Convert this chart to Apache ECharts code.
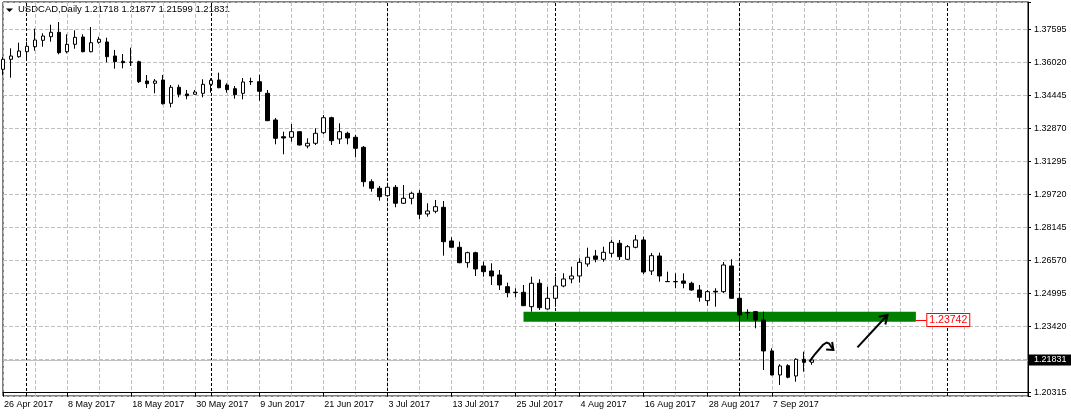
<!DOCTYPE html>
<html>
<head>
<meta charset="utf-8">
<script src="https://cdn.jsdelivr.net/npm/echarts@6/dist/echarts.min.js"></script>
<style>
html,body{margin:0;padding:0;background:#fff;}
#chart{width:1071px;height:416px;}
</style>
</head>
<body>
<div id="chart"></div>
<script>
// ---- data ----
const symbolName = 'USDCAD';
const timeframe = 'Daily';
const firstDate = [2017, 3, 26];      // 26 Apr 2017
const totalSlots = 129;               // bars + empty future space
const opens = [1.35688,1.36165,1.36289,1.36527,1.36766,1.37071,1.37242,1.37452,1.36527,1.36880,
1.37228,1.36527,1.36975,1.36990,1.36322,1.36070,1.36036,1.36051,1.35131,1.35021,
1.35178,1.34068,1.34830,1.34511,1.34497,1.34544,1.34973,1.35178,1.34940,1.34764,
1.34544,1.35107,1.35097,1.34544,1.33271,1.32475,1.32447,1.32714,1.32032,1.32161,
1.32666,1.33381,1.32366,1.32637,1.32447,1.31970,1.30330,1.30016,1.29663,1.30063,
1.29301,1.29539,1.29777,1.28791,1.28919,1.29110,1.27504,1.27203,1.26469,1.26946,
1.26312,1.26073,1.25883,1.25325,1.25058,1.25058,1.24372,1.25487,1.24262,1.24772,
1.25358,1.25692,1.25835,1.26407,1.26788,1.26631,1.26917,1.27394,1.26631,1.27203,
1.27551,1.26073,1.26788,1.25573,1.25573,1.25597,1.25487,1.25168,1.24658,1.25106,
1.25087,1.26312,1.24772,1.24095,1.24133,1.23738,1.22260,1.21116,1.21559,1.21068,
1.21864,1.21718];
const highs = [1.36275,1.36689,1.36956,1.37004,1.37624,1.37404,1.37814,1.37943,1.37357,1.37547,
1.37357,1.37705,1.37242,1.37195,1.36608,1.36418,1.36718,1.36098,1.35417,1.35226,
1.35417,1.34940,1.34954,1.34702,1.34702,1.35212,1.35259,1.35526,1.35021,1.34892,
1.35274,1.35288,1.35431,1.34702,1.33367,1.32714,1.33081,1.32733,1.32399,1.32876,
1.33510,1.33429,1.33114,1.32714,1.32556,1.32032,1.30445,1.30125,1.30140,1.30173,
1.30173,1.29854,1.29935,1.29301,1.29458,1.29410,1.27680,1.27470,1.26993,1.26993,
1.26517,1.26441,1.26121,1.25516,1.25249,1.25406,1.25802,1.25678,1.25325,1.25802,
1.25964,1.26278,1.26679,1.27184,1.27074,1.27232,1.27551,1.27551,1.27313,1.27790,
1.27708,1.26931,1.26946,1.26040,1.25964,1.25964,1.25563,1.25406,1.25168,1.25249,
1.26502,1.26631,1.25010,1.24248,1.24150,1.24133,1.22389,1.21626,1.21626,1.21912,
1.22227,1.21877];
const lows = [1.35417,1.35288,1.36241,1.36165,1.36575,1.36766,1.37004,1.36403,1.36451,1.36670,
1.36499,1.36499,1.36909,1.36022,1.35717,1.35736,1.35846,1.35035,1.34797,1.34544,
1.34010,1.33877,1.34354,1.34258,1.34487,1.34354,1.34573,1.34783,1.34573,1.34287,
1.34258,1.34940,1.34191,1.33224,1.32113,1.31636,1.32237,1.32056,1.31922,1.32080,
1.32604,1.32080,1.32127,1.32113,1.31493,1.30092,1.29854,1.29425,1.29615,1.29110,
1.29267,1.29253,1.28552,1.28662,1.28824,1.26803,1.27193,1.26441,1.26231,1.25835,
1.25802,1.25406,1.25168,1.24820,1.24820,1.24400,1.24133,1.24214,1.24238,1.24372,
1.25296,1.25487,1.25516,1.26278,1.26488,1.26517,1.26727,1.26598,1.26598,1.27156,
1.25930,1.25883,1.25563,1.25549,1.25249,1.25249,1.25134,1.24610,1.24419,1.24372,
1.25025,1.24739,1.23342,1.23771,1.23342,1.21354,1.21092,1.20639,1.20959,1.20796,
1.21273,1.21599];
const closes = [1.36165,1.36322,1.36561,1.36785,1.37085,1.37276,1.37452,1.36480,1.36880,1.37214,
1.36527,1.36956,1.37118,1.36289,1.36051,1.36003,1.36027,1.35097,1.35002,1.35131,
1.34048,1.34830,1.34497,1.34430,1.34606,1.34973,1.35164,1.34811,1.34716,1.34477,
1.35083,1.35092,1.34640,1.33238,1.32399,1.32413,1.32714,1.32080,1.32161,1.32637,
1.33381,1.32285,1.32714,1.32413,1.31922,1.30330,1.30016,1.29615,1.30063,1.29301,
1.29539,1.29777,1.28776,1.28934,1.29139,1.27470,1.27203,1.26469,1.26946,1.26169,
1.26040,1.25835,1.25406,1.25039,1.25049,1.24419,1.25487,1.24324,1.24772,1.25358,
1.25692,1.25835,1.26488,1.26727,1.26631,1.26965,1.27441,1.26755,1.27232,1.27551,
1.26026,1.26803,1.25835,1.25563,1.25559,1.25487,1.25168,1.24820,1.25087,1.25072,
1.26359,1.24772,1.23976,1.24081,1.23738,1.22260,1.21116,1.21545,1.21006,1.21864,
1.21718,1.21831];

// price grid (tick labels as shown on the price scale)
const gridBase = 1.20270;
const gridStep = 0.01575;
const yTickLabels = ['1.20315','','1.23420','1.24995','1.26570','1.28145','1.29720','1.31295','1.32870','1.34445','1.36020','1.37595'];
const priceMin = 1.20113, priceMax = 1.38897;

// month separators (bar slot index)
const monthSeparators = [3, 26, 48, 69, 92, 118];

// support zone
const zoneStart = 65, zoneEnd = 114;
const zoneTop = 1.24133, zoneBottom = 1.23656;
const zoneLabel = 1.23742;

// hand-drawn arrows: [slot, price]
const arrowSmall = [[100.7,1.21748],[101.41,1.22115],[102.38,1.22544],[102.85,1.22663],[103.16,1.22615],[103.70,1.22305]];
const arrowSmallHead = [[102.79,1.22329],[103.70,1.22305],[103.54,1.22687]];
const arrowBig = [[106.70,1.22434],[110.45,1.23974]];
const arrowBigHead = [[109.35,1.23888],[110.45,1.23974],[110.19,1.23521]];

// ---- build ----
const monthNames = ['Jan','Feb','Mar','Apr','May','Jun','Jul','Aug','Sep','Oct','Nov','Dec'];
const dates = [];
{
  let t = Date.UTC(firstDate[0], firstDate[1], firstDate[2]);
  while (dates.length < totalSlots) {
    const d = new Date(t);
    const wd = d.getUTCDay();
    if (wd !== 0 && wd !== 6) dates.push(d.getUTCDate() + ' ' + monthNames[d.getUTCMonth()] + ' ' + d.getUTCFullYear());
    t += 86400000;
  }
}
const nBars = closes.length;
const candleData = closes.map((c, i) => [opens[i], c, lows[i], highs[i]]);
const lastO = opens[nBars-1], lastH = highs[nBars-1], lastL = lows[nBars-1], lastC = closes[nBars-1];

const uMin = (priceMin - gridBase) / gridStep;
const uMax = (priceMax - gridBase) / gridStep;

const FONT = '"Liberation Sans", Arial, sans-serif';
const labelEvery = (i) => i % 8 === 0 && i < nBars;

const chart = echarts.init(document.getElementById('chart'), null, {renderer: 'canvas'});
chart.setOption({
  animation: false,
  backgroundColor: '#fff',
  grid: {left: 3, right: 43, top: 2, bottom: 20, show: true, borderColor: '#000', borderWidth: 1, backgroundColor: '#fff'},
  graphic: [
    {type: 'polygon', shape: {points: [[6,8.5],[13,8.5],[9.5,12]]}, style: {fill: '#000'}, silent: true},
    {type: 'text', left: 18, top: 4, silent: true,
     style: {text: symbolName + ',' + timeframe + ' ' + [lastO,lastH,lastL,lastC].map(v=>v.toFixed(5)).join(' '),
             font: '9.5px ' + FONT, fill: '#000'}}
  ],
  xAxis: [
    {type: 'category', data: dates, boundaryGap: false,
     axisLine: {show: true, lineStyle: {color: '#000', width: 1}},
     axisTick: {show: true, interval: labelEvery, length: 4, lineStyle: {color: '#000'}},
     axisLabel: {show: true, interval: labelEvery, align: 'left', margin: 4, color: '#000', fontSize: 9, fontFamily: FONT, padding: [0,0,0,1]},
     splitLine: {show: true, interval: (i) => i % 4 === 0, lineStyle: {color: '#c0c0c0', type: [4, 2], width: 1}}},
    {type: 'value', min: 0, max: totalSlots - 1, show: false}
  ],
  yAxis: [
    {type: 'value', min: priceMin, max: priceMax, show: false, scale: true, splitLine: {show: false}},
    {type: 'value', position: 'right', min: uMin, max: uMax, minInterval: 1, maxInterval: 1, splitNumber: 12,
     axisLine: {show: true, lineStyle: {color: '#000'}},
     axisTick: {show: true, length: 3, lineStyle: {color: '#000'}},
     axisLabel: {margin: 6, color: '#000', fontSize: 9, fontFamily: FONT, showMinLabel: true, showMaxLabel: true,
       formatter: (v) => { const r = Math.round(v); return Math.abs(v - r) < 1e-6 && yTickLabels[r] !== undefined ? yTickLabels[r] : ''; }},
     splitLine: {show: true, lineStyle: {color: '#c0c0c0', type: [4, 2], width: 1}}}
  ],
  series: [
    { // month separators
      type: 'line', xAxisIndex: 1, yAxisIndex: 0, data: [[0, priceMin]], symbol: 'none', lineStyle: {opacity: 0}, silent: true, z: 1,
      markLine: {silent: true, symbol: 'none', z: 1, precision: 6, animation: false, label: {show: false},
        lineStyle: {color: '#000', type: [3, 2], width: 1},
        data: monthSeparators.map(s => ({xAxis: s - 0.05}))}
    },
    { // support zone
      type: 'line', xAxisIndex: 1, yAxisIndex: 0, data: [[zoneStart, zoneTop]], symbol: 'none', lineStyle: {opacity: 0}, silent: true, z: 2,
      markArea: {silent: true, z: 2, itemStyle: {color: '#008000', opacity: 1},
        data: [[{coord: [zoneStart, zoneTop]}, {coord: [zoneEnd, zoneBottom]}]]},
      markLine: {silent: true, symbol: 'none', z: 2, precision: 6, animation: false,
        lineStyle: {color: '#ff0000', type: 'solid', width: 1},
        label: {show: true, position: 'end', distance: 1, formatter: zoneLabel.toFixed(5), color: '#ff0000',
                fontSize: 10.5, fontFamily: FONT, backgroundColor: '#fff', borderColor: '#ff0000', borderWidth: 1,
                padding: [1, 2, 0, 2], align: 'left', verticalAlign: 'middle'},
        data: [[{coord: [zoneEnd, zoneLabel]}, {coord: [zoneEnd + 1.3, zoneLabel]}]]}
    },
    { // current price line
      type: 'line', xAxisIndex: 1, yAxisIndex: 0, data: [[0, lastC]], symbol: 'none', lineStyle: {opacity: 0}, silent: true, z: 2,
      markLine: {silent: true, symbol: 'none', z: 2.5, precision: 6, animation: false,
        lineStyle: {color: '#c0c0c0', type: 'solid', width: 1},
        label: {show: true, position: 'end', distance: 1, formatter: lastC.toFixed(5), color: '#fff', fontSize: 9, fontFamily: FONT,
                backgroundColor: '#000', padding: [1, 5, 0, 5], lineHeight: 10, align: 'left', verticalAlign: 'middle'},
        data: [{yAxis: lastC}]}
    },
    {
      type: 'candlestick', xAxisIndex: 0, yAxisIndex: 0, data: candleData, barWidth: 4, z: 3, silent: true,
      itemStyle: {color: '#fff', color0: '#000', borderColor: '#000', borderColor0: '#000', borderColorDoji: '#000', borderWidth: 1}
    },
    {
      type: 'lines', coordinateSystem: 'cartesian2d', xAxisIndex: 1, yAxisIndex: 0, polyline: true, z: 4, silent: true,
      lineStyle: {color: '#000', width: 2, opacity: 1, curveness: 0},
      data: [{coords: arrowSmall}, {coords: arrowSmallHead}, {coords: arrowBig}, {coords: arrowBigHead}]
    }
  ]
});
</script>
</body>
</html>
